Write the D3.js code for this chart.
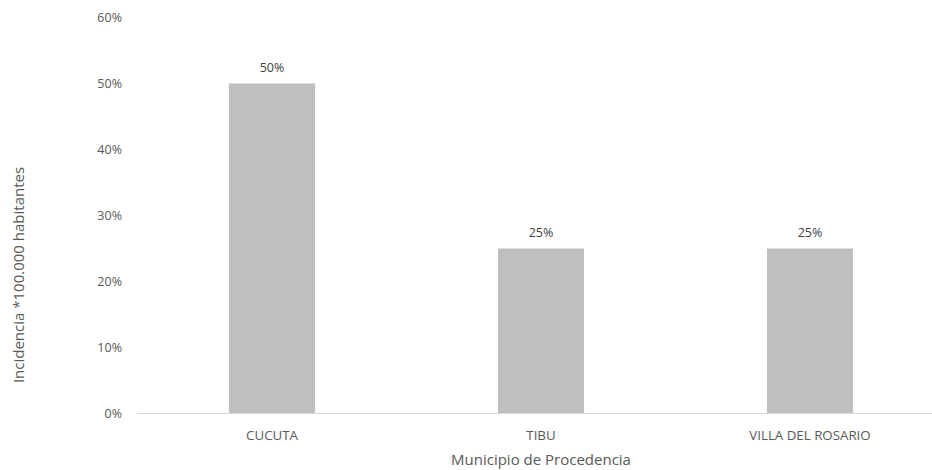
<!DOCTYPE html>
<html>
<head>
<meta charset="utf-8">
<script src="https://cdn.jsdelivr.net/npm/d3@7"></script>
<style>
  html, body { margin: 0; padding: 0; background: #fff; }
  svg text { font-family: "Open Sans", "Noto Sans", sans-serif; fill: #595959; }
</style>
</head>
<body>
<svg id="chart" width="932" height="470"></svg>
<script>
// Incidence by municipality of origin
const municipios = ["CUCUTA", "TIBU", "VILLA DEL ROSARIO"];
const incidencia = [0.50, 0.25, 0.25];
const yTicks = [0, 0.1, 0.2, 0.3, 0.4, 0.5, 0.6];

const svg = d3.select("#chart");
const fmt = d3.format(".0%");

const x = d3.scaleBand()
  .domain(municipios)
  .range([137.5, 944.5])
  .paddingInner(0.68)
  .paddingOuter(0.34);

const y = d3.scaleLinear()
  .domain([0, 0.6])
  .range([413.5, 17.5]);

// y tick labels (no gridlines)
svg.append("g")
  .selectAll("text")
  .data(yTicks)
  .join("text")
  .attr("x", 122)
  .attr("y", d => y(d))
  .attr("dy", "0.35em")
  .attr("text-anchor", "end")
  .style("font-size", "12.5px")
  .text(d => fmt(d));

// bars
svg.append("g")
  .selectAll("rect")
  .data(municipios)
  .join("rect")
  .attr("x", (d) => x(d))
  .attr("y", (d, i) => y(incidencia[i]))
  .attr("width", x.bandwidth())
  .attr("height", (d, i) => y(0) - y(incidencia[i]))
  .attr("fill", "#bfbfbf");

// value labels
svg.append("g")
  .selectAll("text")
  .data(municipios)
  .join("text")
  .attr("x", d => x(d) + x.bandwidth() / 2)
  .attr("y", (d, i) => y(incidencia[i]) - 16)
  .attr("dy", "0.35em")
  .attr("text-anchor", "middle")
  .style("font-size", "12.5px")
  .style("fill", "#404040")
  .text((d, i) => fmt(incidencia[i]));

// baseline
svg.append("line")
  .attr("x1", 137)
  .attr("x2", 932)
  .attr("y1", y(0))
  .attr("y2", y(0))
  .attr("stroke", "#d9d9d9")
  .attr("stroke-width", 1);

// category labels
svg.append("g")
  .selectAll("text")
  .data(municipios)
  .join("text")
  .attr("x", d => x(d) + x.bandwidth() / 2)
  .attr("y", 435)
  .attr("dy", "0.35em")
  .attr("text-anchor", "middle")
  .style("font-size", "13.3px")
  .text(d => d);

// axis titles
svg.append("text")
  .attr("x", 541)
  .attr("y", 460)
  .attr("dy", "0.35em")
  .attr("text-anchor", "middle")
  .style("font-size", "15px")
  .text("Municipio de Procedencia");

svg.append("text")
  .attr("transform", "translate(19,275) rotate(-90)")
  .attr("dy", "0.35em")
  .attr("text-anchor", "middle")
  .style("font-size", "15px")
  .text("Incidencia *100.000 habitantes");
</script>
</body>
</html>
